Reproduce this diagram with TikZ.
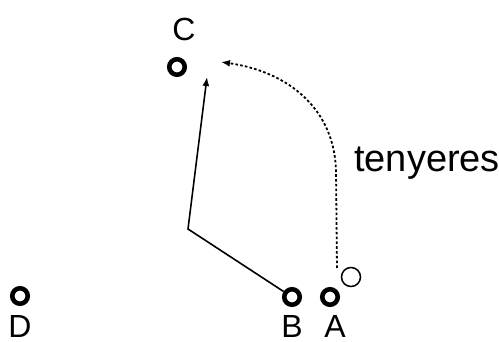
\documentclass[tikz,border=0pt]{standalone}
\usepackage{fontspec}
\setmainfont{Liberation Sans}
\usetikzlibrary{arrows.meta}
\begin{document}
\begin{tikzpicture}[x=1pt,y=-1pt,
  pt/.style={circle,draw,line width=4.6pt,minimum size=15.5pt,inner sep=0pt},
  hand/.style={circle,draw,line width=1.5pt,minimum size=19pt,inner sep=0pt},
  lbl/.style={anchor=base,inner sep=0pt,font=\fontsize{32}{38}\selectfont},
  solidarrow/.style={line width=1.6pt,-{Latex[length=9pt,width=7pt]}},
  dotarrow/.style={line width=1.8pt,dash pattern=on 2.6pt off 2.2pt,-{Latex[length=9pt,width=7pt]}}]
\useasboundingbox (0,0) rectangle (499,342);
\node[pt] (c) at (177,67) {};
\node[pt] (b) at (292,297) {};
\node[pt] (a) at (330,297) {};
\node[pt] (d) at (20,296) {};
\node[hand] (h) at (351,277) {};
\node[lbl] (lc) at (184,41) {C};
\node[lbl] (lb) at (292,338) {B};
\node[lbl] (la) at (335,338) {A};
\node[lbl] (ld) at (20,338) {D};
\node[anchor=base west,inner sep=0pt,font=\fontsize{38}{44}\selectfont] (t) at (354,172) {tenyeres};
\coordinate (bend) at (188,229);
\coordinate (ctip) at (207,77);
\coordinate (dtip) at (221,62);
\coordinate (hs) at (337,268);
\coordinate (hv) at (336,170);
\draw[solidarrow] (b) -- (bend) -- (ctip);
\draw[dotarrow] (hs) -- (hv) .. controls (334,110) and (290,72) .. (dtip);
\end{tikzpicture}
\end{document}
